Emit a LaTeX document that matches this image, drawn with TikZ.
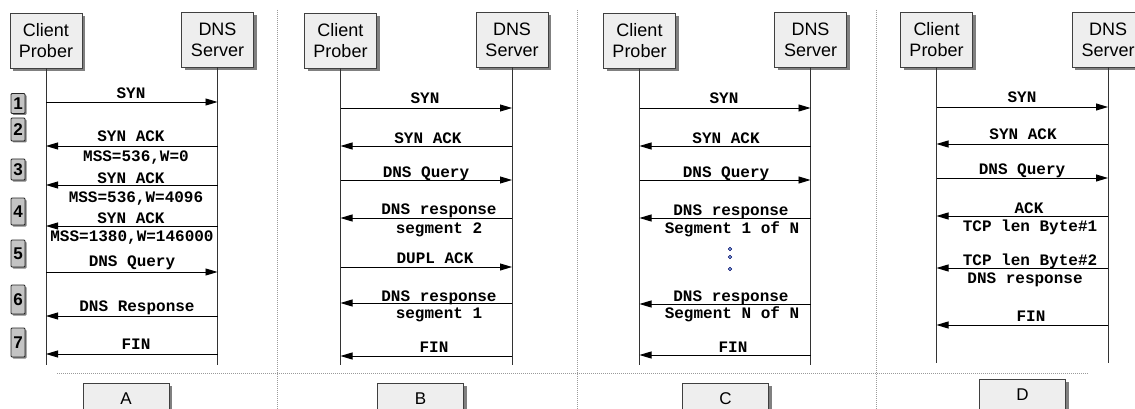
\documentclass[tikz,border=0pt]{standalone}
\usepackage{fontspec}
\setmainfont{Liberation Sans}
\setmonofont{Liberation Mono}
\usepackage{tikz}
\usetikzlibrary{arrows.meta}
\usetikzlibrary{shadows}
\definecolor{boxgray}{HTML}{EEEEEE}
\definecolor{numgray}{HTML}{C4C4C4}
\definecolor{sepgray}{HTML}{9A9A9A}
\definecolor{dotblue}{HTML}{7FAEDC}
\tikzstyle{host}=[draw=black!75, fill=boxgray, minimum width=72pt, minimum height=55pt,
                  align=center, inner sep=0pt, font=\fontsize{18}{21}\selectfont,
                  drop shadow={shadow xshift=3pt, shadow yshift=-3pt, fill=black!50, opacity=1}]
\tikzstyle{num}=[draw=black!85, line width=0.9pt, fill=numgray, rounded corners=1pt,
                  minimum width=14pt, inner sep=0pt,
                  font=\fontsize{17}{17}\selectfont\bfseries,
                  drop shadow={shadow xshift=1.5pt, shadow yshift=-1.5pt, fill=black!50, opacity=1}]
\tikzstyle{case}=[draw=black!75, fill=boxgray, minimum width=86pt, minimum height=32pt,
                  inner sep=0pt, font=\fontsize{17}{17}\selectfont,
                  drop shadow={shadow xshift=3pt, shadow yshift=-3pt, fill=black!50, opacity=1}]
\tikzstyle{msg}=[anchor=base, inner sep=0pt, font=\fontsize{16}{18}\selectfont\ttfamily\bfseries]
\tikzstyle{life}=[draw=black!80, line width=0.9pt]
\tikzstyle{arr}=[line width=0.9pt, -{Triangle[length=12pt,width=7pt]}]
\tikzstyle{sep}=[draw=sepgray, line width=0.8pt, dash pattern=on 1pt off 1pt]
\tikzstyle{gap}=[circle, draw=blue!40!black, fill=dotblue, inner sep=0pt, minimum size=3.5pt]

\begin{document}
\begin{tikzpicture}[x=1pt, y=-1pt]
    \clip (0,0) rectangle (1135,409);
    % panel dividers
    \foreach \x in {277, 577, 876}
      \draw[sep] (\x,10) -- (\x,409);
    \draw[sep] (57,373) -- (1088,373);
    % hosts
    \node[host] (cA) at (46,40.5) {Client\\Prober};
    \node[host] (sA) at (217.5,39.5) {DNS\\Server};
    \node[host] (cB) at (340.5,40.5) {Client\\Prober};
    \node[host] (sB) at (512,39.5) {DNS\\Server};
    \node[host] (cC) at (639.5,40.5) {Client\\Prober};
    \node[host] (sC) at (810.5,39.5) {DNS\\Server};
    \node[host] (cD) at (936.5,39.5) {Client\\Prober};
    \node[host] (sD) at (1108,39.5) {DNS\\Server};
    % lifelines
    \foreach \h/\y in {cA/365, sA/365, cB/365, sB/365, cC/365, sC/365, cD/363, sD/363} {
      \coordinate (\h end) at (\h |- 0,\y);
      \draw[life] (\h.south) -- (\h end);
    }
    % step numbers
    \foreach \n/\y/\h in {1/103.5/20, 2/129.5/23, 3/169.5/21, 4/211.5/27,
          5/253.5/27, 6/299.5/29, 7/342.5/29}
      \node[num, minimum height=\h pt] (n\n) at (18,\y) {\n};
    % messages
    \foreach \y/\from/\to in {102/cA/sA, 146/sA/cA, 185/sA/cA, 226/sA/cA, 272/cA/sA,
          316/sA/cA, 354/sA/cA,
          108/cB/sB, 146/sB/cB, 180/cB/sB, 218/sB/cB, 267/cB/sB, 303/sB/cB, 356/sB/cB,
          108/cC/sC, 146/sC/cC, 180/cC/sC, 218/sC/cC, 304/sC/cC, 355/sC/cC,
          107/cD/sD, 144/sD/cD, 178/cD/sD, 216/sD/cD, 268/sD/cD, 325/sD/cD}
      \draw[arr] (\from |- 0,\y) -- (\to |- 0,\y);
    % labels
    \foreach \x/\y/\t [count=\i] in {131/99/SYN, 131/142/SYN ACK, 136/161/{MSS=536,W=0},
          131/183/SYN ACK, 136/202/{MSS=536,W=4096}, 131/223/SYN ACK,
          132/241/{MSS=1380,W=146000}, 132/266/DNS Query, 137/311/DNS Response,
          136/349/FIN}
      \node[msg] (lA\i) at (\x,\y) {\t};
    \foreach \x/\y/\t [count=\i] in {425/104/SYN, 428/143/SYN ACK, 426/177/DNS Query,
          439/214/DNS response, 439/233/segment 2, 435/263/DUPL ACK,
          439/301/DNS response, 439/318/segment 1, 434/352/FIN}
      \node[msg] (lB\i) at (\x,\y) {\t};
    \foreach \x/\y/\t [count=\i] in {724/104/SYN, 726/143/SYN ACK, 726/177/DNS Query,
          731/215/DNS response, 732/233/Segment 1 of N, 731/301/DNS response,
          732/318/Segment N of N, 733/352/FIN}
      \node[msg] (lC\i) at (\x,\y) {\t};
    \foreach \x/\y/\t [count=\i] in {1022/103/SYN, 1023/140/SYN ACK, 1022/175/DNS Query,
          1029/213/ACK, 1030/231/TCP len Byte\#1, 1030/265/TCP len Byte\#2,
          1025/283/DNS response, 1031/321/FIN}
      \node[msg] (lD\i) at (\x,\y) {\t};
    % more segments
    \foreach \y [count=\i] in {249, 257, 269}
      \node[gap] (g\i) at (730,\y) {};
    % cases
    \node[case] (A) at (126,399) {A};
    \node[case] (B) at (420.5,399) {B};
    \node[case] (C) at (725.5,399) {C};
    \node[case] (D) at (1022.5,395) {D};
\end{tikzpicture}
\end{document}
